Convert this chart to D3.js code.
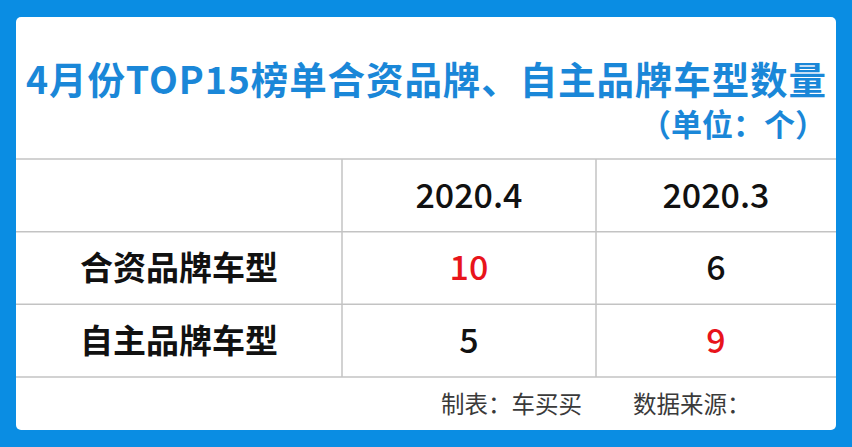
<!DOCTYPE html>
<html>
<head>
<meta charset="utf-8">
<script src="https://cdn.jsdelivr.net/npm/d3@7"></script>
<style>
  html, body { margin: 0; padding: 0; background: #0a8de3; }
  svg { display: block; }
</style>
</head>
<body>
<div class="chart"></div>
<script>
// table values
const title = "4月份TOP15榜单合资品牌、自主品牌车型数量";
const unitLabel = "（单位：个）";
const periods = ["2020.4", "2020.3"];
const brandTypes = ["合资品牌车型", "自主品牌车型"];
const countApr = [10, 5];
const countMar = [6, 9];
const footNotes = ["制表：车买买", "数据来源："];

(function(){
    const
        svgWidth = 852,
        svgHeight = 447;

    const card = { left: 16, right: 836, top: 17, bottom: 430 };
    const font = "'Noto Sans CJK SC', 'Noto Sans', sans-serif";
    const gridColor = "#c3c3c3";

    const svg = d3.select(".chart")
        .append("svg")
        .attr("width", svgWidth)
        .attr("height", svgHeight);

    svg.append("rect")
        .attr("width", svgWidth)
        .attr("height", svgHeight)
        .attr("fill", "#0a8de3");

    svg.append("rect")
        .attr("x", card.left)
        .attr("y", card.top)
        .attr("width", card.right - card.left)
        .attr("height", card.bottom - card.top)
        .attr("rx", 5)
        .attr("fill", "#ffffff");

    // title
    svg.append("text")
        .attr("x", (card.left + card.right) / 2)
        .attr("y", 94)
        .attr("text-anchor", "middle")
        .attr("font-family", font)
        .attr("font-weight", 700)
        .attr("font-size", 37.5)
        .attr("textLength", 800)
        .attr("lengthAdjust", "spacing")
        .attr("fill", "#1a87d8")
        .text(title);

    svg.append("text")
        .attr("x", 826)
        .attr("y", 136)
        .attr("text-anchor", "end")
        .attr("font-family", font)
        .attr("font-weight", 700)
        .attr("font-size", 31)
        .attr("fill", "#1a87d8")
        .text(unitLabel);

    // rows: header + one per brand type
    const rowKeys = ["header"].concat(brandTypes);
    const y = d3.scaleBand()
        .domain(rowKeys)
        .range([159, 377]);

    // columns: label column + one per period
    const colKeys = ["label"].concat(periods);
    const colLeft = d3.scaleOrdinal().domain(colKeys).range([card.left, 342, 596]);
    const colRight = d3.scaleOrdinal().domain(colKeys).range([342, 596, card.right]);
    const colMid = k => (colLeft(k) + colRight(k)) / 2;

    const grid = svg.append("g")
        .attr("stroke", gridColor)
        .attr("stroke-width", 1.5);

    grid.selectAll("line.h")
        .data(rowKeys.concat(["end"]))
        .enter()
        .append("line")
        .attr("class", "h")
        .attr("x1", card.left)
        .attr("x2", card.right)
        .attr("y1", (d, i) => i < rowKeys.length ? y(d) : y.range()[1])
        .attr("y2", (d, i) => i < rowKeys.length ? y(d) : y.range()[1]);

    grid.selectAll("line.v")
        .data(colKeys.slice(1))
        .enter()
        .append("line")
        .attr("class", "v")
        .attr("x1", d => colLeft(d))
        .attr("x2", d => colLeft(d))
        .attr("y1", y.range()[0])
        .attr("y2", y.range()[1]);

    // header cells
    svg.selectAll("text.period")
        .data(periods)
        .enter()
        .append("text")
        .attr("class", "period")
        .attr("x", d => colMid(d))
        .attr("y", y("header") + y.bandwidth() / 2)
        .attr("dy", "0.36em")
        .attr("text-anchor", "middle")
        .attr("font-family", font)
        .attr("font-weight", 500)
        .attr("font-size", 34)
        .attr("fill", "#111")
        .text(d => d);

    // body rows
    const rows = brandTypes.map((b, i) => ({ label: b, values: [countApr[i], countMar[i]] }));

    const rowG = svg.selectAll("g.row")
        .data(rows)
        .enter()
        .append("g")
        .attr("class", "row")
        .attr("transform", d => `translate(0, ${y(d.label) + y.bandwidth() / 2})`);

    rowG.append("text")
        .attr("x", colMid("label"))
        .attr("dy", "0.36em")
        .attr("text-anchor", "middle")
        .attr("font-family", font)
        .attr("font-weight", 700)
        .attr("font-size", 33)
        .attr("fill", "#111")
        .text(d => d.label);

    rowG.selectAll("text.val")
        .data(d => d.values.map((v, j) => ({ v, key: periods[j], top: v === d3.max(d.values) })))
        .enter()
        .append("text")
        .attr("class", "val")
        .attr("x", d => colMid(d.key))
        .attr("dy", "0.36em")
        .attr("text-anchor", "middle")
        .attr("font-family", font)
        .attr("font-weight", 500)
        .attr("font-size", 34)
        .attr("fill", d => d.top ? "#e8141b" : "#111")
        .text(d => d.v);

    // footer
    svg.selectAll("text.foot")
        .data(footNotes)
        .enter()
        .append("text")
        .attr("class", "foot")
        .attr("x", (d, i) => [441, 633][i])
        .attr("y", 405)
        .attr("dy", "0.36em")
        .attr("font-family", font)
        .attr("font-size", 23.5)
        .attr("fill", "#3a3a3a")
        .text(d => d);
})();
</script>
</body>
</html>
